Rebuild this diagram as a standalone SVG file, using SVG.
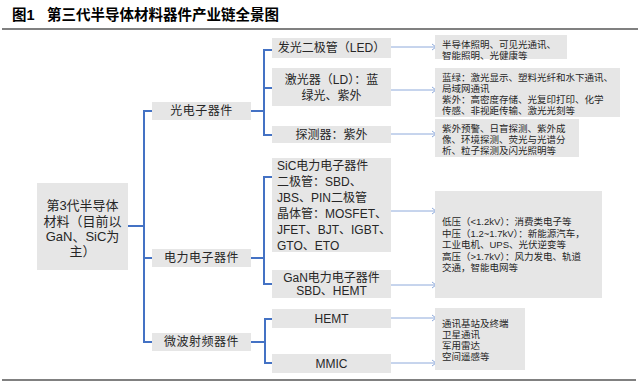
<svg xmlns="http://www.w3.org/2000/svg" width="640" height="385" viewBox="0 0 640 385">
<defs>
<style>
text{font-family:"Liberation Sans","Noto Sans CJK SC",sans-serif;fill:#262626;dominant-baseline:central}
.box{fill:#e6e6e6}
.t13{font-size:13px;text-anchor:middle}
.t12c{font-size:12px;text-anchor:middle;letter-spacing:0.5px}
.t12{font-size:12px}
.t12m{font-size:12px;text-anchor:middle}
.t9{font-size:9.5px}
.br{fill:none;stroke:#4472c4;stroke-width:2}
.ar{fill:none;stroke:#8eaadb;stroke-width:1;marker-end:url(#ah)}
.rule{stroke:#808080;stroke-width:2}
</style>
<marker id="ah" markerWidth="6" markerHeight="8" refX="5" refY="4" orient="auto" markerUnits="userSpaceOnUse">
<path d="M1,1 L5,4 L1,7" fill="none" stroke="#8eaadb" stroke-width="1"/>
</marker>
</defs>
<rect width="640" height="385" fill="#ffffff"/>
<g id="title">
<text x="12" y="15" style="font-size:14.5px;font-weight:bold;fill:#000">图1</text>
<text x="47" y="15" style="font-size:14.5px;font-weight:bold;fill:#000">第三代半导体材料器件产业链全景图</text>
<line class="rule" x1="2" y1="29" x2="638" y2="29"/>
<line class="rule" x1="2" y1="380" x2="636" y2="380"/>
</g>
<g id="connectors">
<path class="br" d="M128,226 H144 M152,111 H144 V342 H152 M144,258 H152"/>
<path class="br" d="M251,111 H264 M272,50 H264 V135 H272 M264,88 H272"/>
<path class="br" d="M251,258 H264 M272,177 H264 V284 H272"/>
<path class="br" d="M251,342 H265 M272,319 H265 V363 H272"/>
<path class="ar" d="M391,47 H436"/>
<path class="ar" d="M391,90 H436"/>
<path class="ar" d="M391,134 H436"/>
<path class="ar" d="M391,211 H436"/>
<path class="ar" d="M391,285 H436"/>
<path class="ar" d="M391,318 H436"/>
<path class="ar" d="M391,363 H436"/>
</g>
<g id="root">
<rect class="box" x="37" y="183" width="91" height="87"/>
<text class="t13" x="82.5" y="205">第3代半导体</text>
<text class="t13" x="82.5" y="221">材料（目前以</text>
<text class="t13" x="82.5" y="236">GaN、SiC为</text>
<text class="t13" x="82.5" y="251">主）</text>
</g>
<g id="optoelectronic">
<rect class="box" x="152" y="102" width="99" height="18"/>
<text class="t12c" x="201.5" y="111">光电子器件</text>
</g>
<g id="power">
<rect class="box" x="152" y="249" width="99" height="18"/>
<text class="t12c" x="201.5" y="258">电力电子器件</text>
</g>
<g id="microwave">
<rect class="box" x="152" y="333" width="99" height="18"/>
<text class="t12c" x="201.5" y="342">微波射频器件</text>
</g>
<g id="led">
<rect class="box" x="272" y="38" width="119" height="20"/>
<text class="t12m" x="331.5" y="48">发光二极管（LED）</text>
</g>
<g id="ld">
<rect class="box" x="272" y="68" width="119" height="38"/>
<text class="t12m" x="331.5" y="80">激光器（LD）：蓝</text>
<text class="t12m" x="331.5" y="96">绿光、紫外</text>
</g>
<g id="detector">
<rect class="box" x="272" y="126" width="119" height="17"/>
<text class="t12m" x="331.5" y="134.5">探测器：紫外</text>
</g>
<g id="sic">
<rect class="box" x="272" y="158" width="119" height="94"/>
<text class="t12" x="277" y="166">SiC电力电子器件</text>
<text class="t12" x="277" y="182">二极管：SBD、</text>
<text class="t12" x="277" y="198">JBS、PIN二极管</text>
<text class="t12" x="277" y="214">晶体管：MOSFET、</text>
<text class="t12" x="277" y="230">JFET、BJT、IGBT、</text>
<text class="t12" x="277" y="246">GTO、ETO</text>
</g>
<g id="gan">
<rect class="box" x="272" y="270" width="119" height="28"/>
<text class="t12m" x="331.5" y="277.5">GaN电力电子器件</text>
<text class="t12m" x="331.5" y="291">SBD、HEMT</text>
</g>
<g id="hemt">
<rect class="box" x="272" y="309" width="119" height="19"/>
<text class="t12m" x="331.5" y="318.5">HEMT</text>
</g>
<g id="mmic">
<rect class="box" x="272" y="354" width="119" height="19"/>
<text class="t12m" x="331.5" y="363.5">MMIC</text>
</g>
<g id="app-led">
<rect class="box" x="435" y="35" width="132" height="24"/>
<text class="t9" x="442" y="44">半导体照明、可见光通讯、</text>
<text class="t9" x="442" y="55">智能照明、光健康等</text>
</g>
<g id="app-ld">
<rect class="box" x="435" y="68" width="185" height="49"/>
<text class="t9" x="442" y="77">蓝绿：激光显示、塑料光纤和水下通讯、</text>
<text class="t9" x="442" y="88">局域网通讯</text>
<text class="t9" x="442" y="99">紫外：高密度存储、光复印打印、化学</text>
<text class="t9" x="442" y="110">传感、非视距传输、激光光刻等</text>
</g>
<g id="app-detector">
<rect class="box" x="435" y="119" width="144" height="38"/>
<text class="t9" x="442" y="128">紫外预警、日盲探测、紫外成</text>
<text class="t9" x="442" y="139">像、环境探测、荧光与光谱分</text>
<text class="t9" x="442" y="150">析、粒子探测及闪光照明等</text>
</g>
<g id="app-power">
<rect class="box" x="435" y="191" width="167" height="107"/>
<text class="t9" x="442" y="221.5">低压（&lt;1.2kV）：消费类电子等</text>
<text class="t9" x="442" y="233">中压（1.2~1.7kV）：新能源汽车，</text>
<text class="t9" x="442" y="244.5">工业电机、UPS、光伏逆变等</text>
<text class="t9" x="442" y="256">高压（&gt;1.7kV）：风力发电、轨道</text>
<text class="t9" x="442" y="267.5">交通，智能电网等</text>
</g>
<g id="app-rf">
<rect class="box" x="435" y="308" width="90" height="62"/>
<text class="t9" x="442" y="323">通讯基站及终端</text>
<text class="t9" x="442" y="334">卫星通讯</text>
<text class="t9" x="442" y="345">军用雷达</text>
<text class="t9" x="442" y="356">空间遥感等</text>
</g>
</svg>
